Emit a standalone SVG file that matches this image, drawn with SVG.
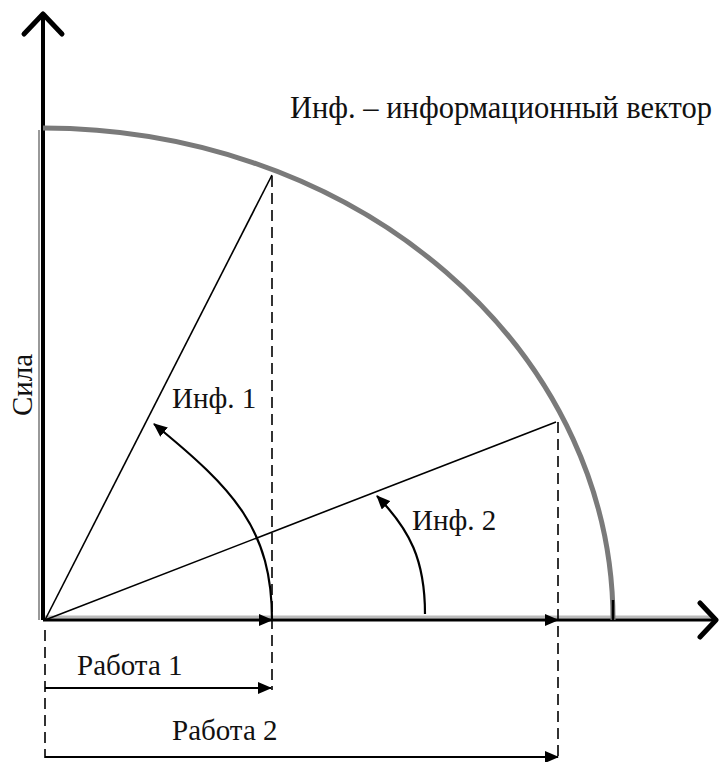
<svg xmlns="http://www.w3.org/2000/svg" width="719" height="762" viewBox="0 0 719 762">
<style>
.t{font-size:29px;fill:#111}
.big{font-size:30.5px}
.thin{stroke:#000;stroke-width:1.6;fill:none}
.dash{stroke:#000;stroke-width:1.6;fill:none;stroke-dasharray:11,6}
.arr{stroke:#000;stroke-width:2.2;fill:none;marker-end:url(#ah)}
</style>
<defs>
<marker id="ah" markerWidth="14" markerHeight="12" refX="13" refY="6" orient="auto" markerUnits="userSpaceOnUse">
<path d="M0,0 L14,6 L0,12 Z" fill="#000"/>
</marker>
</defs>
<rect width="719" height="762" fill="#fff"/>
<g id="axes">
<path d="M43,620 V16" stroke="#000" stroke-width="4" fill="none"/>
<path d="M39,620 V130" stroke="#999" stroke-width="2" fill="none"/>
<path d="M24,34 L43,14 L62,34" stroke="#000" stroke-width="5" fill="none" stroke-linecap="round" stroke-linejoin="round"/>
<path d="M45,617 H712" stroke="#bbb" stroke-width="3" fill="none"/>
<path d="M43,620 H714" stroke="#000" stroke-width="3" fill="none"/>
<path d="M700,603 L716,620 L700,637" stroke="#000" stroke-width="5" fill="none" stroke-linecap="round" stroke-linejoin="round"/>
</g>
<g id="arc">
<path d="M43,128 A570,492 0 0 1 613,620" stroke="#7a7a7a" stroke-width="5" fill="none"/>
<path d="M613,600 V620" stroke="#000" stroke-width="2.5"/>
</g>
<g id="connectors">
<path class="thin" d="M45,620 L272,175"/>
<path class="thin" d="M45,620 L556,422"/>
<path class="dash" d="M272,176 V690"/>
<path class="dash" d="M558,422 V758"/>
<path class="dash" d="M45,630 V758"/>
<path class="arr" d="M45,620 H272"/>
<path class="arr" d="M45,620 H558"/>
<path class="arr" d="M45,688 H271"/>
<path class="arr" d="M45,757 H558"/>
<path class="arr" d="M272,620 C272,530 235,490 154,424"/>
<path class="arr" d="M425,614 C425,560 410,530 377,496"/>
</g>
<g id="labels" font-family="'Liberation Serif', 'DejaVu Serif', serif">
<text class="t big" x="290" y="118">Инф. – информационный вектор</text>
<text class="t" x="172" y="408">Инф. 1</text>
<text class="t" x="412" y="530">Инф. 2</text>
<text class="t" x="77" y="675">Работа 1</text>
<text class="t" x="172" y="740">Работа 2</text>
<text class="t" transform="translate(32,385) rotate(-90)" text-anchor="middle">Сила</text>
</g>
</svg>
